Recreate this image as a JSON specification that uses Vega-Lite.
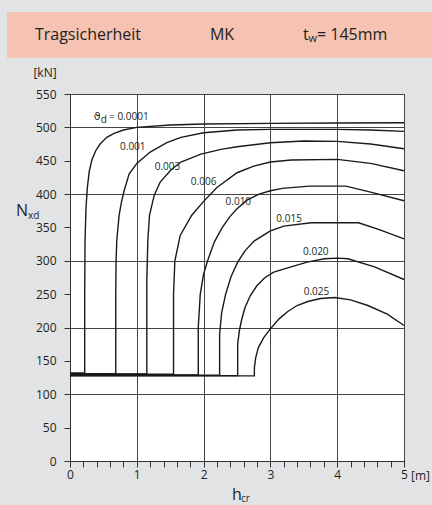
{
  "$schema": "https://vega.github.io/schema/vega-lite/v6.json",
  "background": "#E2E3E5",
  "padding": {"left": 7, "top": 12, "right": 0, "bottom": 0},
  "spacing": 8,
  "config": {"font": "Open Sans", "view": {"stroke": null}, "text": {"color": "#231F20"}},
  "datasets": {
    "curves": [
      {"t":"0.0001","h":0,"N":132},{"t":"0.0001","h":0.22,"N":132},{"t":"0.0001","h":0.22,"N":250},{"t":"0.0001","h":0.225,"N":330},{"t":"0.0001","h":0.24,"N":380},{"t":"0.0001","h":0.26,"N":410},{"t":"0.0001","h":0.29,"N":435},{"t":"0.0001","h":0.33,"N":452},{"t":"0.0001","h":0.385,"N":465},{"t":"0.0001","h":0.45,"N":475},{"t":"0.0001","h":0.55,"N":485},{"t":"0.0001","h":0.66,"N":491},{"t":"0.0001","h":0.8,"N":496},{"t":"0.0001","h":1.0,"N":500},{"t":"0.0001","h":1.5,"N":503.5},{"t":"0.0001","h":2,"N":505},{"t":"0.0001","h":3,"N":506},{"t":"0.0001","h":4,"N":506.5},{"t":"0.0001","h":5,"N":507},
      {"t":"0.001","h":0,"N":131},{"t":"0.001","h":0.685,"N":131},{"t":"0.001","h":0.685,"N":250},{"t":"0.001","h":0.69,"N":300},{"t":"0.001","h":0.7,"N":330},{"t":"0.001","h":0.735,"N":368},{"t":"0.001","h":0.77,"N":388},{"t":"0.001","h":0.81,"N":405},{"t":"0.001","h":0.885,"N":430},{"t":"0.001","h":1.0,"N":446},{"t":"0.001","h":1.2,"N":463},{"t":"0.001","h":1.45,"N":477},{"t":"0.001","h":1.66,"N":485},{"t":"0.001","h":2.0,"N":492},{"t":"0.001","h":2.5,"N":496},{"t":"0.001","h":3,"N":497},{"t":"0.001","h":4,"N":497},{"t":"0.001","h":4.5,"N":496},{"t":"0.001","h":5,"N":494},
      {"t":"0.003","h":0,"N":130.5},{"t":"0.003","h":1.15,"N":130.5},{"t":"0.003","h":1.15,"N":270},{"t":"0.003","h":1.165,"N":330},{"t":"0.003","h":1.19,"N":368},{"t":"0.003","h":1.26,"N":398},{"t":"0.003","h":1.35,"N":418},{"t":"0.003","h":1.51,"N":436},{"t":"0.003","h":1.66,"N":448},{"t":"0.003","h":1.96,"N":460},{"t":"0.003","h":2.26,"N":467},{"t":"0.003","h":2.5,"N":471},{"t":"0.003","h":3,"N":477},{"t":"0.003","h":3.5,"N":479.5},{"t":"0.003","h":4,"N":479},{"t":"0.003","h":4.5,"N":475},{"t":"0.003","h":5,"N":468},
      {"t":"0.006","h":0,"N":130},{"t":"0.006","h":1.55,"N":130},{"t":"0.006","h":1.55,"N":250},{"t":"0.006","h":1.57,"N":300},{"t":"0.006","h":1.65,"N":338},{"t":"0.006","h":1.82,"N":368},{"t":"0.006","h":1.99,"N":388},{"t":"0.006","h":2.2,"N":410},{"t":"0.006","h":2.5,"N":432},{"t":"0.006","h":2.75,"N":442},{"t":"0.006","h":3.0,"N":448},{"t":"0.006","h":3.31,"N":451},{"t":"0.006","h":4.0,"N":452},{"t":"0.006","h":4.5,"N":446},{"t":"0.006","h":5,"N":435},
      {"t":"0.010","h":0,"N":129},{"t":"0.010","h":1.92,"N":129},{"t":"0.010","h":1.92,"N":200},{"t":"0.010","h":1.95,"N":250},{"t":"0.010","h":2.0,"N":280},{"t":"0.010","h":2.06,"N":300},{"t":"0.010","h":2.16,"N":328},{"t":"0.010","h":2.28,"N":350},{"t":"0.010","h":2.4,"N":367},{"t":"0.010","h":2.5,"N":378},{"t":"0.010","h":2.65,"N":391},{"t":"0.010","h":2.83,"N":400},{"t":"0.010","h":3.0,"N":405},{"t":"0.010","h":3.18,"N":408.5},{"t":"0.010","h":3.58,"N":412},{"t":"0.010","h":4.13,"N":412},{"t":"0.010","h":4.5,"N":403},{"t":"0.010","h":5,"N":390},
      {"t":"0.015","h":0,"N":128.5},{"t":"0.015","h":2.24,"N":128.5},{"t":"0.015","h":2.24,"N":190},{"t":"0.015","h":2.27,"N":222},{"t":"0.015","h":2.33,"N":250},{"t":"0.015","h":2.41,"N":276},{"t":"0.015","h":2.51,"N":298},{"t":"0.015","h":2.62,"N":315},{"t":"0.015","h":2.76,"N":330},{"t":"0.015","h":3.0,"N":345},{"t":"0.015","h":3.2,"N":352},{"t":"0.015","h":3.61,"N":357},{"t":"0.015","h":4.32,"N":357},{"t":"0.015","h":4.65,"N":346},{"t":"0.015","h":5,"N":333},
      {"t":"0.020","h":0,"N":128},{"t":"0.020","h":2.51,"N":128},{"t":"0.020","h":2.51,"N":175},{"t":"0.020","h":2.535,"N":195},{"t":"0.020","h":2.57,"N":212},{"t":"0.020","h":2.62,"N":230},{"t":"0.020","h":2.7,"N":248},{"t":"0.020","h":2.8,"N":263},{"t":"0.020","h":2.92,"N":275},{"t":"0.020","h":3.05,"N":283},{"t":"0.020","h":3.31,"N":291},{"t":"0.020","h":3.55,"N":298},{"t":"0.020","h":3.81,"N":303},{"t":"0.020","h":4.0,"N":304},{"t":"0.020","h":4.16,"N":303},{"t":"0.020","h":4.56,"N":291},{"t":"0.020","h":5,"N":272},
      {"t":"0.025","h":0,"N":127.5},{"t":"0.025","h":2.76,"N":127.5},{"t":"0.025","h":2.76,"N":140},{"t":"0.025","h":2.78,"N":155},{"t":"0.025","h":2.82,"N":170},{"t":"0.025","h":2.9,"N":185},{"t":"0.025","h":3.0,"N":198},{"t":"0.025","h":3.13,"N":213},{"t":"0.025","h":3.26,"N":224},{"t":"0.025","h":3.4,"N":233},{"t":"0.025","h":3.56,"N":239},{"t":"0.025","h":3.75,"N":243.5},{"t":"0.025","h":3.96,"N":245},{"t":"0.025","h":4.2,"N":241.5},{"t":"0.025","h":4.46,"N":233},{"t":"0.025","h":4.75,"N":220},{"t":"0.025","h":5,"N":203}
    ],
    "labels": [
      {"text":"0.001","h":0.94,"N":470},
      {"text":"0.003","h":1.46,"N":440},
      {"text":"0.006","h":2.0,"N":418},
      {"text":"0.010","h":2.52,"N":388},
      {"text":"0.015","h":3.28,"N":363},
      {"text":"0.020","h":3.68,"N":313},
      {"text":"0.025","h":3.69,"N":254}
    ],
    "thetaSymbol": [
      {"text":"ϑ","h":0.355,"N":516}
    ],
    "firstLabel": [
      {"text":"d","h":0.46,"N":511},
      {"text":"= 0.0001","h":0.585,"N":515}
    ]
  },
  "vconcat": [
    {
      "width": 425,
      "height": 46,
      "view": {"fill": "#F6C3B2", "stroke": null},
      "layer": [
        {
          "data": {"values": [{"item": "Tragsicherheit"}]},
          "mark": {"type": "text", "fontSize": 16},
          "encoding": {
            "x": {"field": "item", "type": "nominal", "scale": {"type": "point", "domain": ["Tragsicherheit", "MK", "tw"], "padding": 0.647, "align": 0.485}, "axis": null},
            "text": {"field": "item"}
          }
        },
        {
          "data": {"values": [{"item": "MK"}]},
          "mark": {"type": "text", "fontSize": 16, "dx": 5},
          "encoding": {"x": {"field": "item", "type": "nominal"}, "text": {"field": "item"}}
        },
        {
          "data": {"values": [{"item": "tw", "text": "t"}]},
          "mark": {"type": "text", "fontSize": 16, "align": "left", "dx": -43},
          "encoding": {"x": {"field": "item", "type": "nominal"}, "text": {"field": "text"}}
        },
        {
          "data": {"values": [{"item": "tw", "text": "w"}]},
          "mark": {"type": "text", "fontSize": 11, "align": "left", "dx": -37.5, "dy": 4},
          "encoding": {"x": {"field": "item", "type": "nominal"}, "text": {"field": "text"}}
        },
        {
          "data": {"values": [{"item": "tw", "text": "= 145mm"}]},
          "mark": {"type": "text", "fontSize": 16, "align": "left", "dx": -29},
          "encoding": {"x": {"field": "item", "type": "nominal"}, "text": {"field": "text"}}
        }
      ]
    },
    {
      "spacing": 0,
      "hconcat": [
        {
          "width": 8,
          "height": 1,
          "view": {"fill": "#E2E3E5", "stroke": null},
          "data": {"values": []},
          "mark": "point"
        },
        {
          "width": 334,
          "height": 367,
          "view": {"fill": "white", "stroke": "#444", "strokeWidth": 1},
          "layer": [
            {
              "data": {"name": "curves"},
              "mark": {"type": "line", "color": "#1a1a1a", "strokeWidth": 1.4},
              "encoding": {
                "x": {"field": "h", "type": "quantitative", "scale": {"domain": [0, 5], "nice": false},
                  "axis": {"values": [0,0.2,0.4,0.6,0.8,1,1.2,1.4,1.6,1.8,2,2.2,2.4,2.6,2.8,3,3.2,3.4,3.6,3.8,4,4.2,4.4,4.6,4.8,5],
                    "tickCount": 60,
                    "labelExpr": "datum.value % 1 === 0 ? format(datum.value, 'd') : ''",
                    "labelOverlap": false, "labelFlush": false, "labelFontSize": 12, "labelColor": "#231F20", "labelPadding": 2,
                    "tickSize": 6, "tickColor": "#333", "domainColor": "#333", "title": null,
                    "grid": true, "gridColor": "#444", "gridWidth": 1,
                    "gridOpacity": {"condition": {"test": "datum.value % 1 === 0", "value": 1}, "value": 0}}},
                "y": {"field": "N", "type": "quantitative", "scale": {"domain": [0, 550], "nice": false},
                  "axis": {"values": [0,50,100,150,200,250,300,350,400,450,500,550],
                    "tickCount": 30,
                    "labelOverlap": false, "labelFlush": false, "labelFontSize": 12, "labelColor": "#231F20", "labelPadding": 8,
                    "tickSize": 6, "tickColor": "#333", "domainColor": "#333", "title": null,
                    "grid": true, "gridColor": "#444", "gridWidth": 1,
                    "gridOpacity": {"condition": {"test": "datum.value % 100 === 0", "value": 1}, "value": 0}}},
                "detail": {"field": "t", "type": "nominal"},
                "order": {"value": null}
              }
            },
            {
              "data": {"name": "labels"},
              "mark": {"type": "text", "fontSize": 10, "align": "center", "baseline": "middle"},
              "encoding": {"x": {"field": "h", "type": "quantitative"}, "y": {"field": "N", "type": "quantitative"}, "text": {"field": "text"}}
            },
            {
              "data": {"name": "thetaSymbol"},
              "mark": {"type": "text", "fontSize": 11, "font": "DejaVu Sans", "align": "left", "baseline": "middle"},
              "encoding": {"x": {"field": "h", "type": "quantitative"}, "y": {"field": "N", "type": "quantitative"}, "text": {"field": "text"}}
            },
            {
              "data": {"name": "firstLabel"},
              "mark": {"type": "text", "fontSize": 10, "align": "left", "baseline": "middle"},
              "encoding": {"x": {"field": "h", "type": "quantitative"}, "y": {"field": "N", "type": "quantitative"}, "text": {"field": "text"}}
            },
            {
              "data": {"values": [{"text": "[kN]"}]},
              "mark": {"type": "text", "fontSize": 12, "align": "center", "baseline": "middle", "dx": -25, "dy": -21},
              "encoding": {"x": {"datum": 0}, "y": {"datum": 550}, "text": {"field": "text"}}
            },
            {
              "data": {"values": [{"text": "N"}]},
              "mark": {"type": "text", "fontSize": 16, "align": "left", "baseline": "alphabetic", "dx": -54},
              "encoding": {"x": {"datum": 0}, "y": {"datum": 367}, "text": {"field": "text"}}
            },
            {
              "data": {"values": [{"text": "xd"}]},
              "mark": {"type": "text", "fontSize": 10, "align": "left", "baseline": "alphabetic", "dx": -42},
              "encoding": {"x": {"datum": 0}, "y": {"datum": 362}, "text": {"field": "text"}}
            },
            {
              "data": {"values": [{"text": "h"}]},
              "mark": {"type": "text", "fontSize": 16, "align": "left", "baseline": "alphabetic", "dx": -5, "dy": 39},
              "encoding": {"x": {"datum": 2.5}, "y": {"datum": 0}, "text": {"field": "text"}}
            },
            {
              "data": {"values": [{"text": "cr"}]},
              "mark": {"type": "text", "fontSize": 10, "align": "left", "baseline": "alphabetic", "dx": 4, "dy": 41},
              "encoding": {"x": {"datum": 2.5}, "y": {"datum": 0}, "text": {"field": "text"}}
            },
            {
              "data": {"values": [{"text": "[m]"}]},
              "mark": {"type": "text", "fontSize": 12, "align": "left", "baseline": "middle", "dx": 7, "dy": 15},
              "encoding": {"x": {"datum": 5}, "y": {"datum": 0}, "text": {"field": "text"}}
            }
          ]
        }
      ]
    }
  ]
}
